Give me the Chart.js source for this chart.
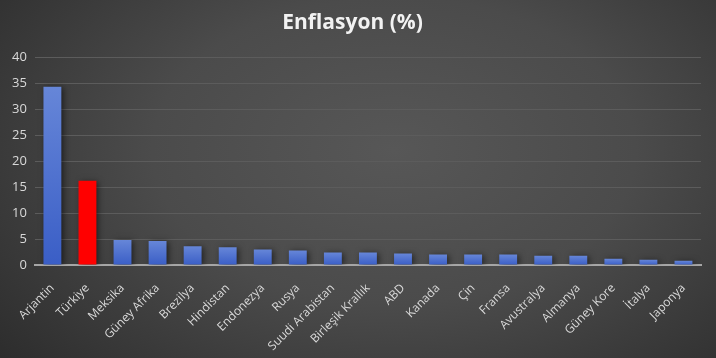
<!DOCTYPE html>
<html>
<head>
<meta charset="utf-8">
<script src="https://cdn.jsdelivr.net/npm/chart.js@4.4.0/dist/chart.umd.min.js"></script>
<style>
html,body{margin:0;padding:0;}
body{width:716px;height:358px;overflow:hidden;
background:radial-gradient(ellipse 75% 95% at 55% 42%, #575757 0%, #4b4b4b 45%, #2a2a2a 100%);}
#wrap{position:relative;width:716px;height:358px;}
</style>
</head>
<body>
<div id="wrap"><canvas id="c" width="716" height="358"></canvas></div>
<script>
const categories = ["Arjantin","Türkiye","Meksika","Güney Afrika","Brezilya","Hindistan","Endonezya","Rusya","Suudi Arabistan","Birleşik Krallık","ABD","Kanada","Çin","Fransa","Avustralya","Almanya","Güney Kore","İtalya","Japonya"];
const inflation = [34.3,16.2,4.8,4.6,3.6,3.4,3.0,2.8,2.4,2.4,2.2,2.0,2.0,2.0,1.8,1.8,1.2,1.0,0.8];
const highlight = "Türkiye";
const yTicks = [0,5,10,15,20,25,30,35,40];

function barColor(ctx){
  const chart = ctx.chart;
  const label = chart.data.labels[ctx.dataIndex];
  if (label === highlight) return "#ff0000";
  const ys = chart.scales.y;
  if (!ys || ctx.raw == null) return "#4a6fd0";
  const top = ys.getPixelForValue(ctx.raw);
  const bot = ys.getPixelForValue(0);
  if (!isFinite(top) || !isFinite(bot) || top === bot) return "#4a6fd0";
  const g = chart.ctx.createLinearGradient(0, top, 0, bot);
  g.addColorStop(0, "#6686d8");
  g.addColorStop(1, "#3a5ec6");
  return g;
}

const shadowPlugin = {
  id: "barShadow",
  beforeDatasetsDraw(chart){
    const c = chart.ctx; c.save();
    c.shadowColor = "rgba(0,0,0,0.55)"; c.shadowBlur = 6; c.shadowOffsetX = 2; c.shadowOffsetY = 1;
  },
  afterDatasetsDraw(chart){ chart.ctx.restore(); }
};

Chart.defaults.font.family = "'Open Sans', 'DejaVu Sans', sans-serif";

new Chart(document.getElementById("c"), {
  type: "bar",
  data: {
    labels: categories,
    datasets: [{
      label: "Enflasyon (%)",
      data: inflation,
      backgroundColor: barColor,
      borderWidth: 0,
      categoryPercentage: 1.0,
      barPercentage: 0.51
    }]
  },
  options: {
    responsive: false,
    animation: false,
    devicePixelRatio: 1,
    layout: { padding: { left: 4, right: 15, top: 10, bottom: 0 } },
    plugins: {
      legend: { display: false },
      tooltip: { enabled: false },
      title: {
        display: true,
        text: "Enflasyon (%)",
        color: "#f2f2f2",
        font: { family: "'Open Sans', sans-serif", size: 21, weight: "bold" },
        padding: { top: 0, bottom: 22 }
      }
    },
    scales: {
      x: {
        grid: { display: false, drawTicks: false },
        border: { display: true, color: "#a6a6a6", width: 2 },
        afterFit(axis){ axis.height = 93; },
        ticks: {
          color: "#d9d9d9",
          font: { size: 12 },
          minRotation: 45, maxRotation: 45,
          padding: 16,
          autoSkip: false
        }
      },
      y: {
        min: 0, max: 40,
        afterBuildTicks(axis){ axis.ticks = yTicks.map(v => ({ value: v })); },
        grid: { color: "#5c5c5c", lineWidth: 1, drawTicks: false },
        border: { display: false },
        ticks: {
          color: "#d9d9d9",
          font: { size: 13 },
          padding: 8
        }
      }
    }
  },
  plugins: [shadowPlugin]
});
</script>
</body>
</html>
